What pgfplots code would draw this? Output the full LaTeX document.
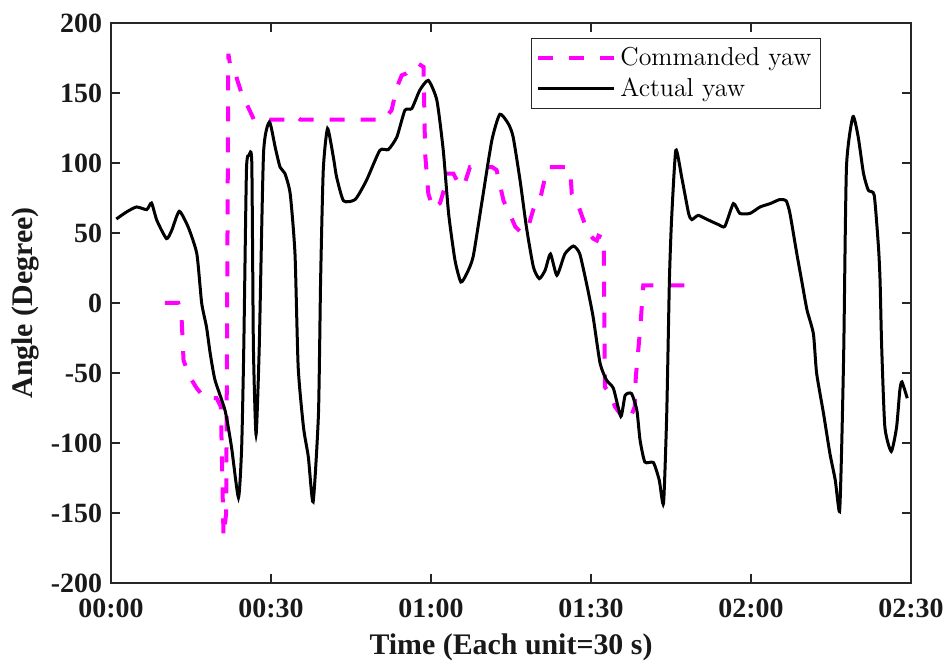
\documentclass[border=0pt]{standalone}
\usepackage{fontspec}
\usepackage{pgfplots}
\pgfplotsset{compat=1.18}
\newfontfamily\tnr{Liberation Serif}
\definecolor{axgray}{RGB}{38,38,38}
\definecolor{mag}{RGB}{255,0,255}
\begin{document}
\begin{tikzpicture}
\begin{axis}[
  width=400bp, height=280bp, scale only axis,
  xmin=0, xmax=150, ymin=-200, ymax=200,
  xtick={0,30,60,90,120,150},
  xticklabels={00:00,00:30,01:00,01:30,02:00,02:30},
  ytick={-200,-150,-100,-50,0,50,100,150,200},
  yticklabels={-200,-150,-100,-50,0,50,100,150,200},
  tick align=inside, major tick length=4.5bp,
  axis line style={draw=axgray, line width=0.6bp},
  tick style={draw=axgray, line width=0.6bp},
  tick label style={font=\tnr\bfseries\fontsize{14}{16}\selectfont, text=black!90},
  xticklabel style={yshift=-4.5bp},
  yticklabel style={xshift=-1bp},
  xlabel={Time (Each unit=30 s)}, ylabel={Angle (Degree)},
  every axis x label/.style={at={(axis description cs:0.5,-0.114)}, anchor=center,
    font=\tnr\bfseries\fontsize{15}{18}\selectfont, text=black!90},
  every axis y label/.style={at={(axis description cs:-0.1075,0.5)}, rotate=90, anchor=center,
    font=\tnr\bfseries\fontsize{15}{18}\selectfont, text=black!90},
  legend style={at={(axis description cs:0.8875,0.973)}, anchor=north east,
    draw=axgray, line width=0.6bp, fill=white,
    font=\fontsize{13}{15}\selectfont, row sep=0.5bp, inner sep=2.5bp},
  legend cell align=left,
  legend image code/.code={\draw[#1] (0bp,0bp) -- (38bp,0bp);},
]
\addplot[mag, line width=2bp, dash pattern=on 7.5bp off 8bp] coordinates {
(10.1,0) (12.6,0) (13.2,-7.6) (13.6,-41) (14.8,-53) (16.1,-61) (17.6,-68) (19.8,-68)
(20.6,-74) (21.1,-167) (21.6,-150) (22.0,178) (22.4,168.6) (23.2,166) (23.7,159)
(24.5,149.6) (24.8,145) (25.4,142.4) (26.8,131) (33.9,131) (34.8,133) (35.5,131)
(51.1,131) (52.6,137.6) (53.6,154) (54.5,162.6) (55.4,164) (57.6,171) (58.6,168.6)
(58.9,106.7) (59.5,78) (60.4,67.4) (61.7,71.4) (62.6,83) (62.9,92.4) (64.2,92.4)
(65.2,85) (65.8,83) (66.4,86.4) (67.3,97) (70.1,97) (71.5,97) (72.3,95) (72.9,85)
(73.6,73) (74.5,66) (75.8,54.5) (77.0,50) (78.2,54) (79.5,71) (80.4,73) (81.4,90)
(82.0,97) (85.7,97) (86.1,95) (86.4,78) (87.3,73) (88.6,59) (89.2,52) (90.4,46)
(91.1,44.6) (91.4,48) (92.0,47) (92.4,47) (92.6,-60) (93.6,-64.7) (94.5,-74)
(96.1,-82.6) (97.3,-83) (98.2,-74) (98.4,-53) (99.2,-19.5) (99.7,6.7) (99.8,12.6)
(107.9,12.6)
};
\addlegendentry{Commanded yaw}
\addplot[black, line width=1.5bp, smooth, tension=0.35] coordinates {
(1.0,60) (2.9,65) (4.8,68.6) (6.7,66.7) (7.6,71.4) (8.6,59) (10.4,46) (11.4,52)
(12.8,65.5) (14.5,54) (16.1,35) (17.0,0) (17.9,-17) (18.6,-36) (19.5,-55) (21.4,-77)
(22.6,-103) (23.9,-139) (24.5,-103) (24.9,-31) (25.4,95) (25.9,105.5) (26.4,100)
(26.7,-31) (27.2,-94) (27.8,-31) (28.6,106.7) (29.7,129.3) (30.8,111) (31.7,97)
(32.6,92.6) (33.6,78) (34.5,35) (35.1,-46) (36.1,-89) (37.0,-110) (37.9,-142)
(38.9,-79) (39.3,16) (39.8,95) (40.6,124.6) (41.7,104) (42.3,90) (43.6,73) (45.8,74)
(47.9,87.6) (50.4,109) (52.0,109.6) (53.6,118.6) (55.1,137.6) (56.4,138.9) (57.9,152)
(59.5,159) (61.1,144.8) (62.3,109) (63.3,64) (64.5,30.5) (65.6,15) (66.7,21) (67.9,33)
(69.5,71) (71.4,116) (72.9,134.8) (74.5,128) (75.4,118.6) (76.7,87.6) (77.9,54)
(79.2,25.7) (80.3,17.4) (81.4,23.4) (82.4,35) (83.6,19.8) (85.1,35) (86.7,40.7)
(87.9,35) (89.3,11.4) (90.4,-10) (91.7,-43) (92.9,-55) (94.2,-61) (95.6,-81)
(96.4,-66) (97.6,-64.7) (98.6,-76.6) (99.2,-98) (100.1,-113.6) (101.7,-114)
(102.8,-126.6) (103.6,-143) (104.2,-79) (104.7,16) (105.1,59) (105.9,109) (107.0,90)
(108.3,64) (108.9,59.6) (110.1,62.6) (111.7,59.8) (113.9,56) (115.1,54.8) (116.7,71)
(117.9,64) (119.8,64) (121.7,68.6) (123.6,71) (125.4,73.9) (126.6,72.9) (127.3,64)
(128.6,35) (129.5,16) (130.5,-5) (131.7,-22) (132.3,-50) (133.6,-79) (134.8,-107.6)
(135.8,-126.6) (136.6,-149) (137.0,-103) (137.4,-31) (137.9,97) (139.1,133)
(140.1,118.6) (141.1,92.4) (142.0,80.5) (143.1,77) (143.9,40) (144.2,16) (144.5,-31)
(145.1,-88.6) (146.3,-106) (147.3,-88.6) (147.9,-62.4) (148.3,-56.4) (149.3,-68)
};
\addlegendentry{Actual yaw}
\end{axis}
\pgfresetboundingbox
\path[use as bounding box] ([shift={(-55.5bp,-41.5bp)}]current axis.south west) rectangle ([shift={(18.5bp,11.5bp)}]current axis.north east);
\end{tikzpicture}
\end{document}
